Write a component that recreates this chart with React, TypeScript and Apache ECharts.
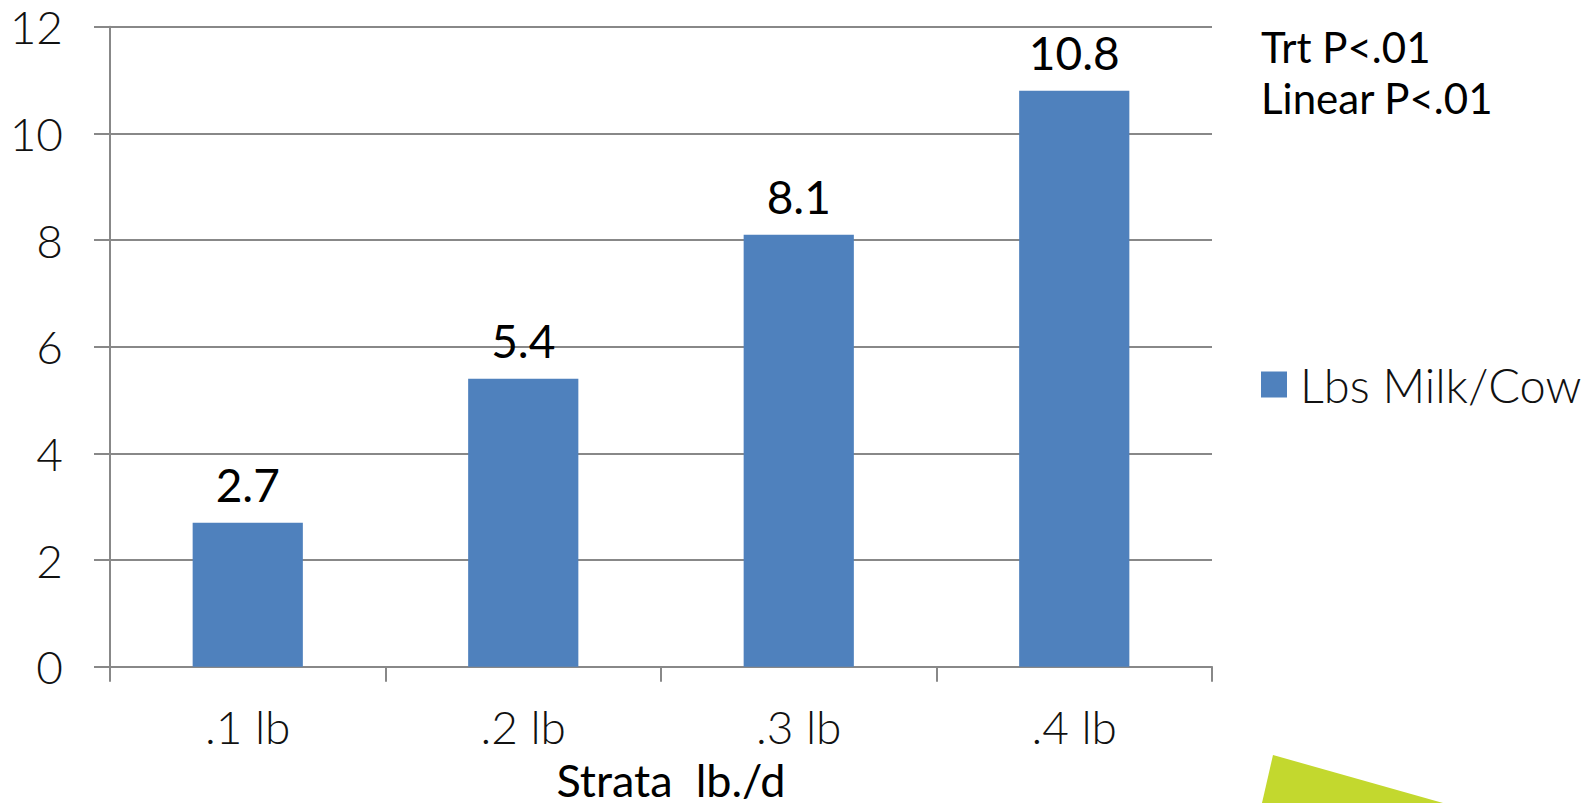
import React, { useEffect, useRef } from "react";
import * as echarts from "echarts";

// Milk response by strata level
const categories = [".1 lb", ".2 lb", ".3 lb", ".4 lb"];
const milkValues = [2.7, 5.4, 8.1, 10.8];
const seriesName = "Lbs Milk/Cow";
const axisTitle = "Strata  lb./d";
const statNotes = ["Trt P<.01", "Linear P<.01"];

const GRID_COLOR = "#888888";
const BAR_COLOR = "#4f81bd";
const FONT = "Lato, 'Open Sans', sans-serif";

export default function App() {
  const ref = useRef<HTMLDivElement>(null);

  useEffect(() => {
    if (!ref.current) return;
    const chart = echarts.init(ref.current, undefined, { renderer: "svg" });
    chart.setOption({
      animation: false,
      backgroundColor: "#ffffff",
      grid: {
        left: 110,
        right: 380,
        top: 26.7,
        bottom: 136.3,
        containLabel: false,
        outerBoundsMode: "none",
      },
      legend: {
        data: [seriesName],
        left: 1256,
        top: 356,
        itemWidth: 26,
        itemHeight: 26,
        icon: "rect",
        textStyle: {
          fontFamily: FONT,
          fontSize: 47,
          fontWeight: 300,
          color: "#111111",
          lineHeight: 46,
          padding: [0, 0, 0, 8],
        },
      },
      xAxis: {
        type: "category",
        data: categories,
        axisLine: { lineStyle: { color: GRID_COLOR, width: 2 } },
        axisTick: { show: true, length: 15, lineStyle: { color: GRID_COLOR, width: 2 } },
        axisLabel: {
          margin: 37,
          fontFamily: FONT,
          fontSize: 46,
          fontWeight: 300,
          color: "#111111",
        },
        name: axisTitle,
        nameLocation: "middle",
        nameGap: 94,
        nameTextStyle: {
          fontFamily: FONT,
          fontSize: 45,
          lineHeight: 38,
          color: "#000000",
          padding: [0, 0, 0, 20],
        },
      },
      yAxis: {
        type: "value",
        min: 0,
        max: 12,
        interval: 2,
        axisLine: { show: true, lineStyle: { color: GRID_COLOR, width: 2 } },
        axisTick: { show: true, length: 16, lineStyle: { color: GRID_COLOR, width: 2 } },
        splitLine: { show: true, lineStyle: { color: GRID_COLOR, width: 2 } },
        axisLabel: {
          margin: 47,
          fontFamily: FONT,
          fontSize: 46,
          fontWeight: 300,
          color: "#111111",
        },
      },
      series: [
        {
          name: seriesName,
          type: "bar",
          data: milkValues,
          barWidth: "40%",
          itemStyle: { color: BAR_COLOR },
          label: {
            show: true,
            position: "top",
            distance: 15,
            fontFamily: FONT,
            fontSize: 46,
            fontWeight: 400,
            color: "#000000",
          },
        },
      ],
      graphic: [
        {
          type: "text",
          left: 1261,
          top: 21,
          style: {
            text: statNotes.join("\n"),
            fontFamily: FONT,
            fontSize: 42,
            fontWeight: 400,
            lineHeight: 51,
            fill: "#000000",
          },
        },
        {
          type: "polygon",
          shape: {
            points: [
              [1273, 755],
              [1443, 803],
              [1262, 803],
            ],
          },
          style: { fill: "#c3d82e" },
        },
      ],
    });
    return () => chart.dispose();
  }, []);

  return (
    <div
      ref={ref}
      style={{ position: "fixed", left: 0, top: 0, width: 1592, height: 803 }}
    />
  );
}
